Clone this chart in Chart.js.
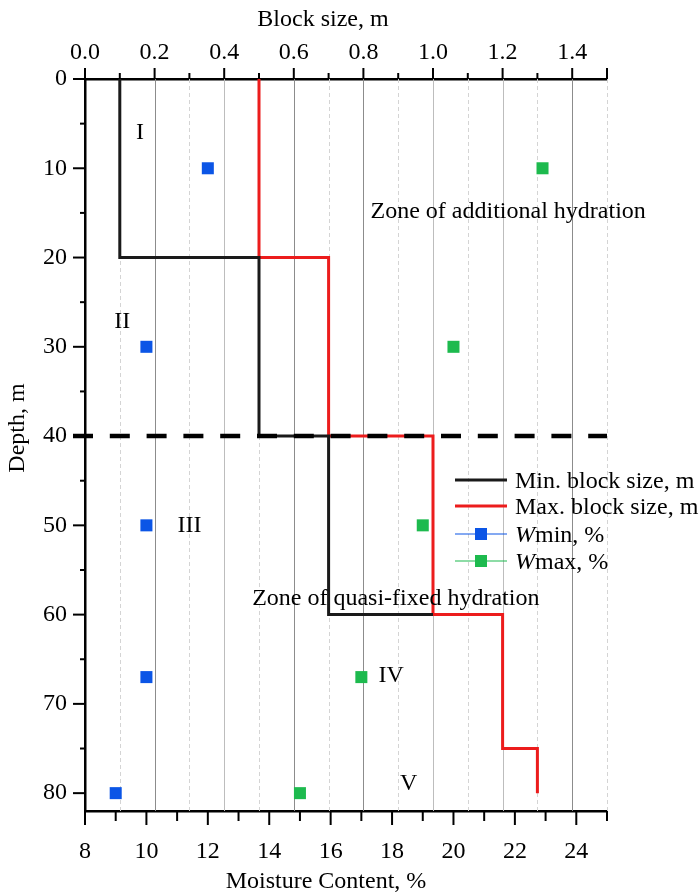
<!DOCTYPE html>
<html><head><meta charset="utf-8">
<script src="https://cdn.jsdelivr.net/npm/chart.js@4.4.1/dist/chart.umd.min.js"></script>
<style>html,body{margin:0;padding:0;background:#fff;}#wrap{width:699px;height:895px;position:relative;}</style>
</head><body><div id="wrap"><canvas id="c" width="699" height="895"></canvas></div>
<script>
// ---- data ----
const depthTicks = [0,10,20,30,40,50,60,70,80];
const depthMinorTicks = [5,15,25,35,45,55,65,75];
const blockTicks = [0,0.2,0.4,0.6,0.8,1.0,1.2,1.4];
const blockMinorTicks = [0.1,0.3,0.5,0.7,0.9,1.1,1.3,1.5];
const moistureTicks = [8,10,12,14,16,18,20,22,24];
const moistureMinorTicks = [9,11,13,15,17,19,21,23,25];

const minBlockSize  = [0.1,0.1,0.5,0.5,0.7,0.7,1.0];
const minBlockDepth = [0,20,20,40,40,60,60];
const maxBlockSize  = [0.5,0.5,0.7,0.7,1.0,1.0,1.2,1.2,1.3,1.3];
const maxBlockDepth = [0,20,20,40,40,60,60,75,75,80];

const sampleDepth = [10,30,50,67,80];
const wMin = [12,10,10,10,9];
const wMax = [22.9,20,19,17,15];

const boundaryDepth = 40;

const zoneNames = ['I','II','III','IV','V'];
const zoneNameBlock = [0.158,0.107,0.30,0.88,0.93];
const zoneNameDepth = [6,27.2,50,66.8,78.9];
const zoneTitles = ['Zone of additional hydration','Zone of quasi-fixed hydration'];
const zoneTitleBlock = [1.216,0.893];
const zoneTitleDepth = [14.9,58.2];

const seriesNames = ['Min. block size, m','Max. block size, m','min, %','max, %'];

// ---- styles ----
const FONT = '"Liberation Serif", "Times New Roman", serif';
const BLACK = '#1a1a1a', RED = '#ec1c1c', BLUE = '#0b55e6', GREEN = '#1dba4e';

const zip = (xs, ys) => xs.map((x,i)=>({x, y: ys[i]}));

const plugin = {
  id: 'decor',
  beforeDatasetsDraw(chart) {
    const {ctx, chartArea: a, scales} = chart;
    const xs = scales.xTop;
    ctx.save();
    ctx.lineWidth = 1;
    const darker = [0.2,0.6,0.8,1.4];
    blockTicks.forEach(v => {
      if (v === 0) return;
      const x = Math.round(xs.getPixelForValue(v)) + 0.5;
      ctx.strokeStyle = darker.some(d => Math.abs(d - v) < 1e-6) ? '#8c8c8c' : '#bdbdbd';
      ctx.setLineDash([]);
      ctx.beginPath(); ctx.moveTo(x, a.top); ctx.lineTo(x, a.bottom); ctx.stroke();
    });
    blockMinorTicks.forEach(v => {
      const x = Math.round(xs.getPixelForValue(v)) + 0.5;
      ctx.strokeStyle = '#d4d4d4';
      ctx.setLineDash([4,3]);
      ctx.beginPath(); ctx.moveTo(x, a.top); ctx.lineTo(x, a.bottom); ctx.stroke();
    });
    ctx.restore();
  },
  afterDatasetsDraw(chart) {
    const {ctx, chartArea: a, scales} = chart;
    const xs = scales.xTop, ys = scales.y;
    ctx.save();
    // boundary dashed line
    const yb = ys.getPixelForValue(boundaryDepth);
    ctx.strokeStyle = '#000';
    ctx.lineWidth = 4.5;
    ctx.setLineDash([20,16.8]);
    ctx.beginPath(); ctx.moveTo(a.left - 12, yb); ctx.lineTo(a.right, yb); ctx.stroke();
    ctx.setLineDash([]);
    // annotations
    ctx.fillStyle = '#000';
    ctx.font = '24px ' + FONT;
    ctx.textAlign = 'center';
    ctx.textBaseline = 'middle';
    zoneNames.forEach((t,i) => ctx.fillText(t, xs.getPixelForValue(zoneNameBlock[i]), ys.getPixelForValue(zoneNameDepth[i])));
    zoneTitles.forEach((t,i) => ctx.fillText(t, xs.getPixelForValue(zoneTitleBlock[i]), ys.getPixelForValue(zoneTitleDepth[i])));
    ctx.restore();
  },
  afterDraw(chart) {
    const {ctx, chartArea: a, scales} = chart;
    const xs = scales.xTop, xb = scales.xBottom, ys = scales.y;
    ctx.save();
    ctx.strokeStyle = '#000';
    ctx.lineWidth = 2;
    const tick = (x1,y1,x2,y2) => { ctx.beginPath(); ctx.moveTo(x1,y1); ctx.lineTo(x2,y2); ctx.stroke(); };
    depthTicks.forEach(v => { const y = ys.getPixelForValue(v); tick(a.left - 12, y, a.left, y); });
    depthMinorTicks.forEach(v => { const y = ys.getPixelForValue(v); tick(a.left - 5, y, a.left, y); });
    blockTicks.forEach(v => { const x = xs.getPixelForValue(v); tick(x, a.top - 11, x, a.top); });
    blockMinorTicks.forEach(v => { const x = xs.getPixelForValue(v); tick(x, a.top - (v > 1.45 ? 11 : 6), x, a.top); });
    moistureTicks.forEach(v => { const x = xb.getPixelForValue(v); tick(x, a.bottom, x, a.bottom + 14); });
    moistureMinorTicks.forEach(v => { const x = xb.getPixelForValue(v); tick(x, a.bottom, x, a.bottom + 10); });

    // axis titles
    ctx.fillStyle = '#000';
    ctx.font = '24px ' + FONT;
    ctx.textAlign = 'center';
    ctx.textBaseline = 'middle';
    ctx.fillText('Block size, m', 323, 20);
    ctx.fillText('Moisture Content, %', 326, 882);
    ctx.save();
    ctx.translate(18, 428);
    ctx.rotate(-Math.PI/2);
    ctx.fillText('Depth, m', 0, 0);
    ctx.restore();

    // legend
    const lx1 = 455, lx2 = 507, tx = 515;
    const rows = [480, 506, 534, 561];
    ctx.textAlign = 'left';
    ctx.textBaseline = 'alphabetic';
    const colors = [BLACK, RED, BLUE, GREEN];
    rows.forEach((ry, i) => {
      ctx.strokeStyle = colors[i];
      ctx.lineWidth = i < 2 ? 3 : 1.2;
      tick(lx1, ry, lx2, ry);
      if (i >= 2) {
        ctx.fillStyle = colors[i];
        ctx.fillRect((lx1+lx2)/2 - 6, ry - 6, 12, 12);
      }
      ctx.fillStyle = '#000';
      let x = tx;
      if (i >= 2) {
        ctx.font = 'italic 24px ' + FONT;
        ctx.fillText('W', x, ry + 8);
        x += ctx.measureText('W').width;
        ctx.font = '24px ' + FONT;
      }
      ctx.fillText(seriesNames[i], x, ry + 8);
    });
    ctx.restore();
  }
};

const tickFont = {family: FONT, size: 24};

new Chart(document.getElementById('c'), {
  type: 'scatter',
  data: {
    datasets: [
      {label: seriesNames[0], data: zip(minBlockSize, minBlockDepth), xAxisID: 'xTop', yAxisID: 'y',
       showLine: true, borderColor: BLACK, borderWidth: 3, pointRadius: 0, fill: false,
       borderJoinStyle: 'miter', borderCapStyle: 'butt', tension: 0},
      {label: seriesNames[1], data: zip(maxBlockSize, maxBlockDepth), xAxisID: 'xTop', yAxisID: 'y',
       showLine: true, borderColor: RED, borderWidth: 3, pointRadius: 0, fill: false,
       borderJoinStyle: 'miter', borderCapStyle: 'butt', tension: 0},
      {label: 'Wmin, %', data: zip(wMin, sampleDepth), xAxisID: 'xBottom', yAxisID: 'y',
       showLine: false, pointStyle: 'rect', pointRadius: 8.5, pointBorderWidth: 0,
       backgroundColor: BLUE, borderColor: BLUE},
      {label: 'Wmax, %', data: zip(wMax, sampleDepth), xAxisID: 'xBottom', yAxisID: 'y',
       showLine: false, pointStyle: 'rect', pointRadius: 8.5, pointBorderWidth: 0,
       backgroundColor: GREEN, borderColor: GREEN}
    ]
  },
  options: {
    responsive: false,
    animation: false,
    devicePixelRatio: 1,
    layout: {padding: {left: 0, top: 0, right: 92, bottom: 0}},
    plugins: {legend: {display: false}, tooltip: {enabled: false}},
    scales: {
      y: {
        type: 'linear', position: 'left', reverse: true, min: 0, max: 82,
        afterBuildTicks: s => { s.ticks = depthTicks.map(v => ({value: v})); },
        afterFit: s => { s.width = 85; },
        grid: {display: false, drawTicks: false},
        border: {display: true, color: '#000', width: 2.5},
        ticks: {font: tickFont, color: '#000', padding: 18, autoSkip: false}
      },
      xTop: {
        type: 'linear', position: 'top', min: 0, max: 1.5,
        afterBuildTicks: s => { s.ticks = blockTicks.map(v => ({value: v})); },
        afterFit: s => { s.height = 79; },
        grid: {display: false, drawTicks: false},
        border: {display: true, color: '#000', width: 2.5},
        ticks: {font: tickFont, color: '#000', padding: 12, autoSkip: false, maxRotation: 0,
                callback: v => Number(v).toFixed(1)}
      },
      xBottom: {
        type: 'linear', position: 'bottom', min: 8, max: 25,
        afterBuildTicks: s => { s.ticks = moistureTicks.map(v => ({value: v})); },
        afterFit: s => { s.height = 84; },
        grid: {display: false, drawTicks: false},
        border: {display: true, color: '#000', width: 2.5},
        ticks: {font: tickFont, color: '#000', padding: 26, autoSkip: false, maxRotation: 0,
                callback: v => String(v)}
      }
    }
  },
  plugins: [plugin]
});
</script>
</body></html>
